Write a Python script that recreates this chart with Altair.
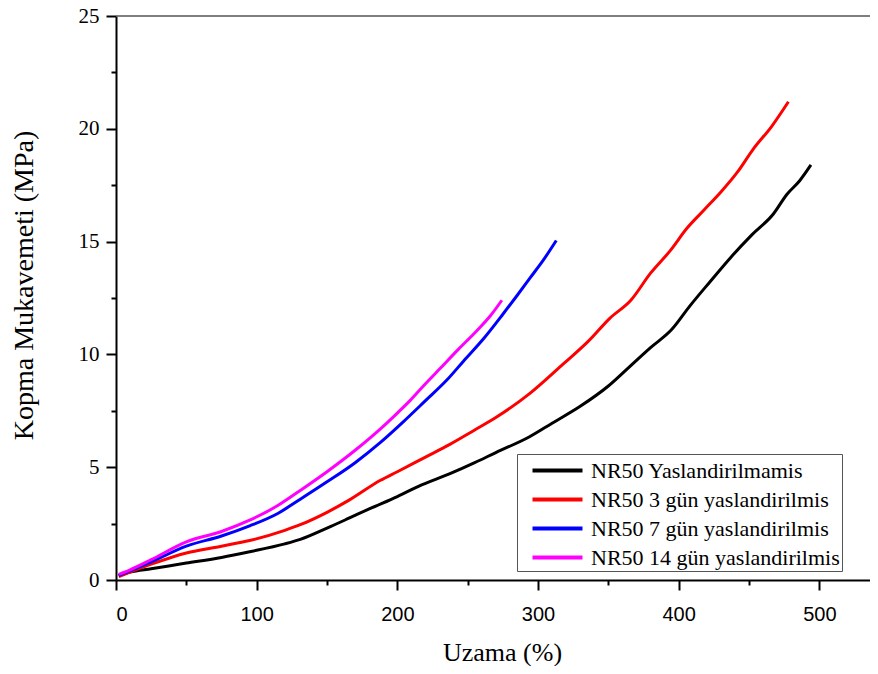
import altair as alt
import pandas as pd

names = ["NR50 Yaslandirilmamis", "NR50 3 gün yaslandirilmis",
         "NR50 7 gün yaslandirilmis", "NR50 14 gün yaslandirilmis"]
colors = ["#000000", "#ff0000", "#0000ff", "#ff00ff"]

black_x = [2, 10, 25, 50, 75, 95, 120, 131, 150, 166, 180, 200, 215, 237, 255, 270, 294, 310, 330, 350, 365, 380, 395, 408, 422, 437, 452, 467, 477, 486, 494]
black_y = [0.2, 0.35, 0.5, 0.75, 1.0, 1.25, 1.6, 1.8, 2.3, 2.75, 3.15, 3.7, 4.15, 4.7, 5.2, 5.65, 6.35, 6.95, 7.7, 8.6, 9.45, 10.3, 11.1, 12.15, 13.2, 14.3, 15.3, 16.2, 17.1, 17.7, 18.4]

red_x = [2, 10, 25, 50, 75, 95, 120, 131, 150, 166, 188, 200, 220, 237, 255, 270, 294, 318, 336, 351, 366, 380, 394, 406, 418, 430, 442, 453, 466, 478]
red_y = [0.15, 0.35, 0.7, 1.2, 1.5, 1.75, 2.2, 2.45, 3.0, 3.55, 4.42, 4.8, 5.45, 6.0, 6.65, 7.2, 8.26, 9.58, 10.6, 11.6, 12.4, 13.6, 14.6, 15.6, 16.4, 17.2, 18.1, 19.1, 20.1, 21.2]

blue_x = [2, 10, 25, 50, 75, 95, 115, 131, 150, 170, 188, 204, 220, 235, 247, 262, 275, 285, 294.5, 304, 313]
blue_y = [0.2, 0.4, 0.8, 1.5, 1.95, 2.4, 2.95, 3.58, 4.35, 5.2, 6.1, 7.0, 7.95, 8.85, 9.7, 10.75, 11.78, 12.6, 13.4, 14.2, 15.05]

magenta_x = [2, 10, 25, 50, 75, 95, 115, 131, 150, 170, 188, 200, 209, 220, 230, 243, 256.5, 266, 274.3]
magenta_y = [0.25, 0.45, 0.9, 1.69, 2.15, 2.65, 3.3, 3.97, 4.8, 5.75, 6.7, 7.4, 7.95, 8.7, 9.35, 10.2, 11.05, 11.7, 12.4]

x_major = [0, 100, 200, 300, 400, 500]
x_minor = [50, 150, 250, 350, 450]
y_major = [0, 5, 10, 15, 20, 25]
y_minor = [2.5, 7.5, 12.5, 17.5, 22.5]

SERIF = "Liberation Serif, 'Times New Roman', Times, 'DejaVu Serif', serif"
SANS = "Liberation Sans, Arial, 'DejaVu Sans', sans-serif"

rows = []
for k, (name, xs, ys) in enumerate(zip(names, [black_x, red_x, blue_x, magenta_x],
                                       [black_y, red_y, blue_y, magenta_y])):
    for i, (xv, yv) in enumerate(zip(xs, ys)):
        rows.append({"series": name, "x": xv, "y": yv, "i": i, "k": k})
df = pd.DataFrame(rows)

xscale = alt.Scale(domain=[0, 536], nice=False, zero=False)
yscale = alt.Scale(domain=[0, 25], nice=False, zero=False)

lines = alt.Chart(df).mark_line(strokeWidth=3, interpolate="monotone").encode(
    x=alt.X("x:Q", scale=xscale,
            axis=alt.Axis(values=x_major, orient="bottom", title="Uzama (%)",
                          labelFont=SANS, labelFontSize=20,
                          labelPadding=14, titleFont=SERIF,
                          titleFontSize=26, titleFontWeight="normal",
                          titleX=386, titleY=72, titleBaseline="middle",
                          titleColor="black", labelColor="black")),
    y=alt.Y("y:Q", scale=yscale,
            axis=alt.Axis(values=y_major, orient="left",
                          title="Kopma Mukavemeti (MPa)",
                          labelFont=SERIF, labelFontSize=21,
                          labelPadding=7, titleFont=SERIF,
                          titleFontSize=28, titleFontWeight="normal",
                          titleX=-92, titleY=269, titleBaseline="middle",
                          titleAngle=270, titleColor="black", labelColor="black")),
    color=alt.Color("series:N", scale=alt.Scale(domain=names, range=colors),
                    legend=alt.Legend(title=None, orient="none", legendX=401, legendY=438,
                                      symbolType="M-2,0H2", symbolSize=625,
                                      symbolStrokeWidth=4, symbolOffset=24,
                                      labelFont=SERIF,
                                      labelFontSize=22, labelColor="black", labelLimit=500,
                                      strokeColor="#555555", fillColor="white",
                                      padding=2, rowPadding=3, labelOffset=19)),
    detail="k:N",
    order="i:Q",
)

minor = alt.Chart(pd.DataFrame({"x": [0], "y": [0]})).mark_point(opacity=0).encode(
    x=alt.X("x:Q", scale=xscale, title=None,
            axis=alt.Axis(values=x_minor, orient="bottom", labels=False, domain=False,
                          tickSize=5)),
    y=alt.Y("y:Q", scale=yscale, title=None,
            axis=alt.Axis(values=y_minor, orient="left", labels=False, domain=False,
                          tickSize=5)),
)

top = alt.Chart(pd.DataFrame({"y": [25]})).mark_rule(color="#555555", strokeWidth=1.5).encode(
    y=alt.Y("y:Q", scale=yscale, axis=None)
)

chart = alt.layer(lines, minor, top).resolve_axis(
    x="independent", y="independent"
).properties(
    width=754, height=564,
    autosize=alt.AutoSizeParams(type="none"),
    padding={"left": 108, "top": 8, "right": 0, "bottom": 86},
).configure_axis(
    grid=False, domainColor="black", domainWidth=2, tickColor="black",
    tickWidth=2, tickSize=10,
).configure_view(strokeWidth=0)

chart.save("out.html", embed_options={"renderer": "svg", "actions": False})
